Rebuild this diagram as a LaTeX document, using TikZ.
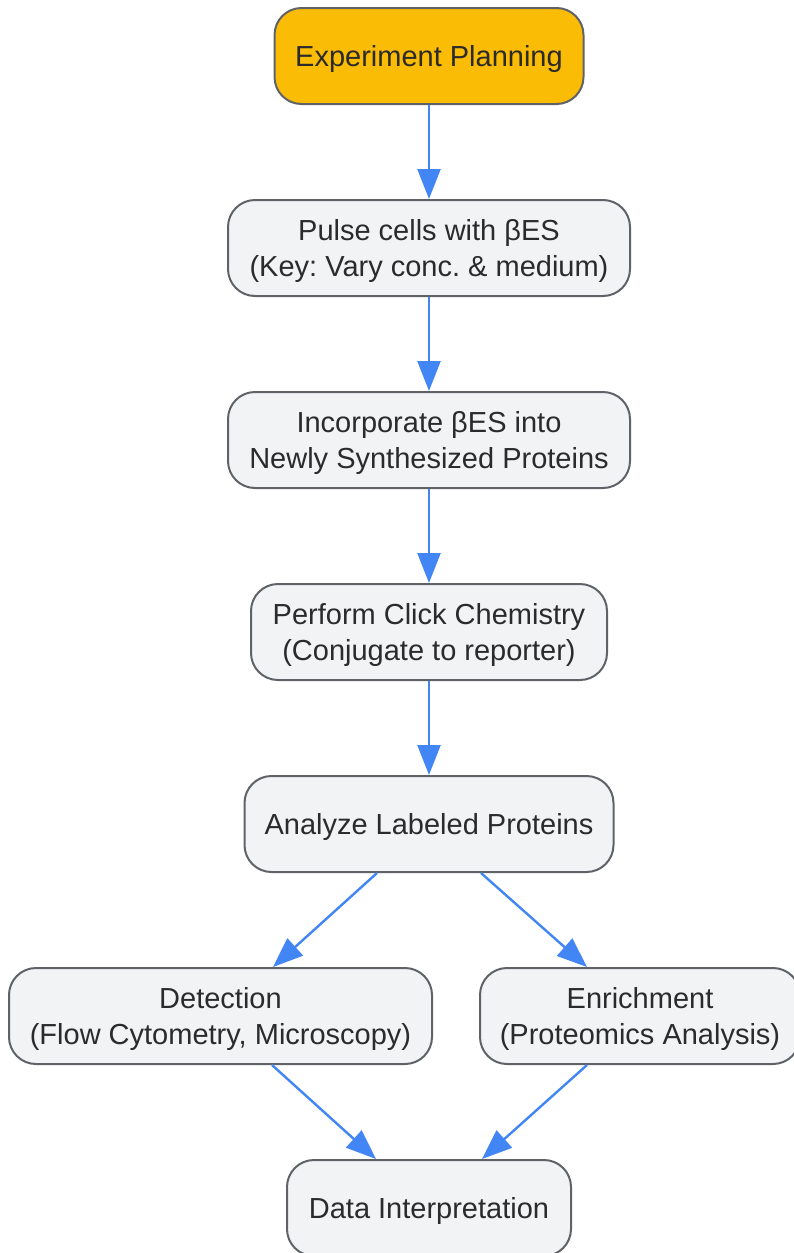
\documentclass[tikz,border=0pt]{standalone}
\usepackage{fontspec}
\setmainfont{Liberation Sans}
\usepackage{tikz}
\usetikzlibrary{arrows.meta}
\definecolor{stagefill}{HTML}{F1F3F5}
\definecolor{stageline}{HTML}{5F6368}
\definecolor{startfill}{HTML}{FBBC05}
\definecolor{flowblue}{HTML}{4285F4}
\definecolor{txt}{HTML}{2B2B2B}
\frenchspacing

\begin{document}
\begin{tikzpicture}[x=1pt,y=-1pt,stage/.style n args={2}{rectangle,draw=stageline,line width=2pt,fill=#1,minimum width=#2pt,minimum height=96pt,rounded corners=27pt,align=center,text=txt,font=\fontsize{29}{36}\selectfont,inner sep=0pt,text height=24pt,text depth=4pt},twoline/.style={text height=60pt},flow/.style={draw=flowblue,line width=2.4pt,-{Triangle[length=30pt,width=23pt]}}]
\useasboundingbox (0,0) rectangle (793,1253);
\node[stage={startfill}{309}] (plan) at (429,56) {Experiment Planning};
\node[stage={stagefill}{402},twoline] (pulse) at (429,248) {Pulse cells with βES\\(Key: Vary conc. \& medium)};
\node[stage={stagefill}{402},twoline] (incorp) at (429,440) {Incorporate βES into\\Newly Synthesized Proteins};
\node[stage={stagefill}{356},twoline] (click) at (429,632) {Perform Click Chemistry\\(Conjugate to reporter)};
\node[stage={stagefill}{369}] (analyze) at (429,824) {Analyze Labeled Proteins};
\node[stage={stagefill}{423},twoline] (detect) at (220.5,1016) {Detection\\(Flow Cytometry, Microscopy)};
\node[stage={stagefill}{320},twoline] (enrich) at (640,1016) {Enrichment\\(Proteomics Analysis)};
\node[stage={stagefill}{284}] (interp) at (429,1208) {Data Interpretation};
% straight chain
\foreach \a/\b in %
{plan/pulse,pulse/incorp,incorp/click,click/analyze} {
   \draw[flow] (\a.south) -- (\b.north);
}
% split and merge
\draw[flow] ([xshift=-52pt]analyze.south) -- ([xshift=52.5pt]detect.north);
\draw[flow] ([xshift=52pt]analyze.south) -- ([xshift=-53pt]enrich.north);
\draw[flow] ([xshift=51.5pt]detect.south) -- ([xshift=-53pt]interp.north);
\draw[flow] ([xshift=-53pt]enrich.south) -- ([xshift=53pt]interp.north);
\end{tikzpicture}
\end{document}
